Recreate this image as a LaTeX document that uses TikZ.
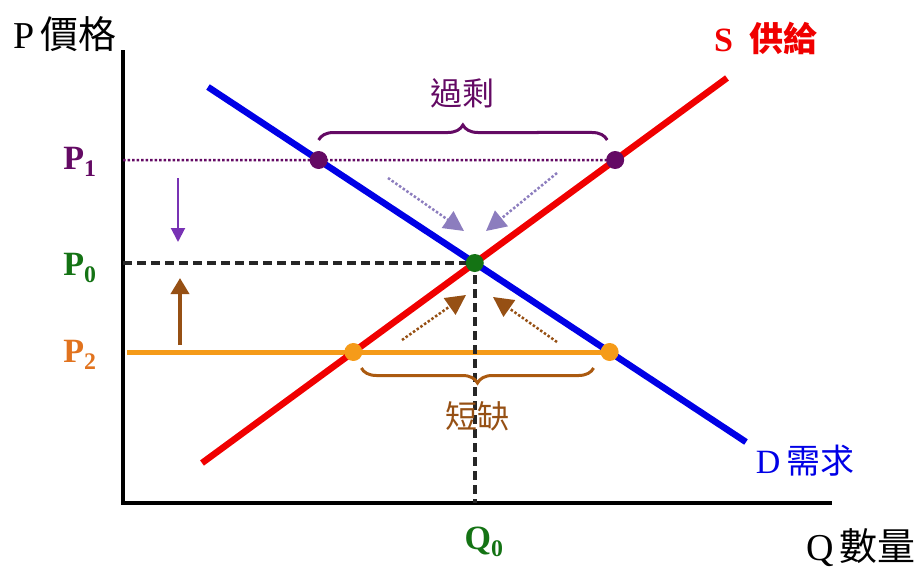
\documentclass[tikz,border=0pt]{standalone}
\usepackage{fontspec}
\setmainfont{Liberation Serif}
\newfontfamily\cjk{Noto Sans CJK TC}
\usetikzlibrary{arrows.meta, positioning, calc, decorations.pathreplacing}
\definecolor{dblue}{RGB}{0,0,230}
\definecolor{sred}{RGB}{240,0,0}
\definecolor{ppurple}{RGB}{100,10,100}
\definecolor{apurple}{RGB}{120,50,180}
\definecolor{lav}{RGB}{140,125,190}
\definecolor{pgreen}{RGB}{20,115,20}
\definecolor{porange}{RGB}{245,155,25}
\definecolor{lorange}{RGB}{225,115,30}
\definecolor{pbrown}{RGB}{150,80,20}

\begin{document}
\begin{tikzpicture}[x=1pt,y=-1pt,
    lbl/.style={font=\fontsize{34}{38}\selectfont\bfseries, inner sep=0pt},
    big/.style={font=\fontsize{38}{42}\selectfont, inner sep=0pt},
    dot/.style={circle,fill,inner sep=0pt,minimum size=18pt},
    curve/.style={line width=6.5pt},
    hint/.style={dotted,line width=2.5pt,-{Triangle[length=20pt,width=20pt]}},
    brace/.style={decorate,decoration={brace,amplitude=15pt},line width=3pt}]
  \useasboundingbox (0,0) rectangle (919,568);
  % axes
  \coordinate (O) at (123,503);
  \coordinate (ytop) at (123,50);
  \coordinate (xend) at (832,503);
  \draw[line width=4pt] (ytop) -- (O) -- (xend);
  % demand and supply
  \coordinate (d1) at (208,87);
  \coordinate (d2) at (746,442);
  \coordinate (s1) at (202,463);
  \coordinate (s2) at (727,78);
  \coordinate (E) at (intersection of d1--d2 and s1--s2);
  % price levels
  \coordinate (p1L) at (123,160);
  \coordinate (p1R) at (800,160);
  \coordinate (p2L) at (127,352);
  \coordinate (p2R) at (800,352);
  \coordinate (a1) at (intersection of d1--d2 and p1L--p1R);
  \coordinate (b1) at (intersection of s1--s2 and p1L--p1R);
  \coordinate (a2) at (intersection of s1--s2 and p2L--p2R);
  \coordinate (b2) at (intersection of d1--d2 and p2L--p2R);
  \coordinate (P0) at (O |- E);
  \coordinate (Q0) at (E |- O);
  \draw[ppurple,dotted,line width=2.5pt] (p1L) -- (b1);
  \draw[porange,line width=5pt] (p2L) -- (b2);
  \draw[black!85,line width=3.5pt,dash pattern=on 9pt off 5pt] (P0) -- (E) -- (Q0);
  \draw[curve,dblue] (d1) -- (d2);
  \draw[curve,sred] (s1) -- (s2);
  \node[dot,ppurple] (m1) at (a1) {};
  \node[dot,ppurple] (m2) at (b1) {};
  \node[dot,porange] (n1) at (a2) {};
  \node[dot,porange] (n2) at (b2) {};
  \node[dot,pgreen] (eq) at (E) {};
  % braces
  \draw[brace,ppurple] ($(m1)+(0,-20)$) -- ($(m2)+(-8,-20)$)
    node[midway,above=30pt,lbl,font=\fontsize{32}{36}\selectfont\cjk] (surplus) {過剩};
  \draw[brace,pbrown!80!orange] ($(n2)+(-16,16)$) -- ($(n1)+(8,16)$)
    node[midway,below=32pt,lbl,font=\fontsize{32}{36}\selectfont\cjk,pbrown] (short) {短缺};
  % adjustment arrows
  \coordinate (u1) at (178,178);
  \coordinate (u2) at (178,242);
  \coordinate (v1) at (180,345);
  \coordinate (v2) at (180,278);
  \draw[apurple,line width=2pt,-{Triangle[length=14pt,width=14pt]}] (u1) -- (u2);
  \draw[pbrown,line width=3.5pt,-{Triangle[length=16pt,width=18pt]}] (v1) -- (v2);
  \coordinate (h1) at (388,178);
  \coordinate (h2) at (464,231);
  \coordinate (h3) at (557,173);
  \coordinate (h4) at (486,231);
  \draw[hint,lav] (h1) -- (h2);
  \draw[hint,lav] (h3) -- (h4);
  \coordinate (k1) at (402,340);
  \coordinate (k2) at (466,295);
  \coordinate (k3) at (557,342);
  \coordinate (k4) at (493,297);
  \draw[hint,pbrown] (k1) -- (k2);
  \draw[hint,pbrown] (k3) -- (k4);
  % labels
  \node[lbl,ppurple] (lp1) at (80,162) {P\textsubscript{1}};
  \node[lbl,pgreen] (lp0) at (80,268) {P\textsubscript{0}};
  \node[lbl,lorange] (lp2) at (80,355) {P\textsubscript{2}};
  \node[lbl,pgreen] (lq0) at (484,542) {Q\textsubscript{0}};
  \node[big] (ylab) at (65,34) {P\,{\cjk 價格}};
  \node[big] (xlab) at (861,548) {Q\,{\cjk 數量}};
  \node[big,sred,font=\fontsize{34}{38}\selectfont\bfseries] (slab) at (766,38) {S\enspace{\cjk 供給}};
  \node[big,dblue,font=\fontsize{34}{38}\selectfont] (dlab) at (805,461) {D\,{\cjk 需求}};
\end{tikzpicture}
\end{document}
